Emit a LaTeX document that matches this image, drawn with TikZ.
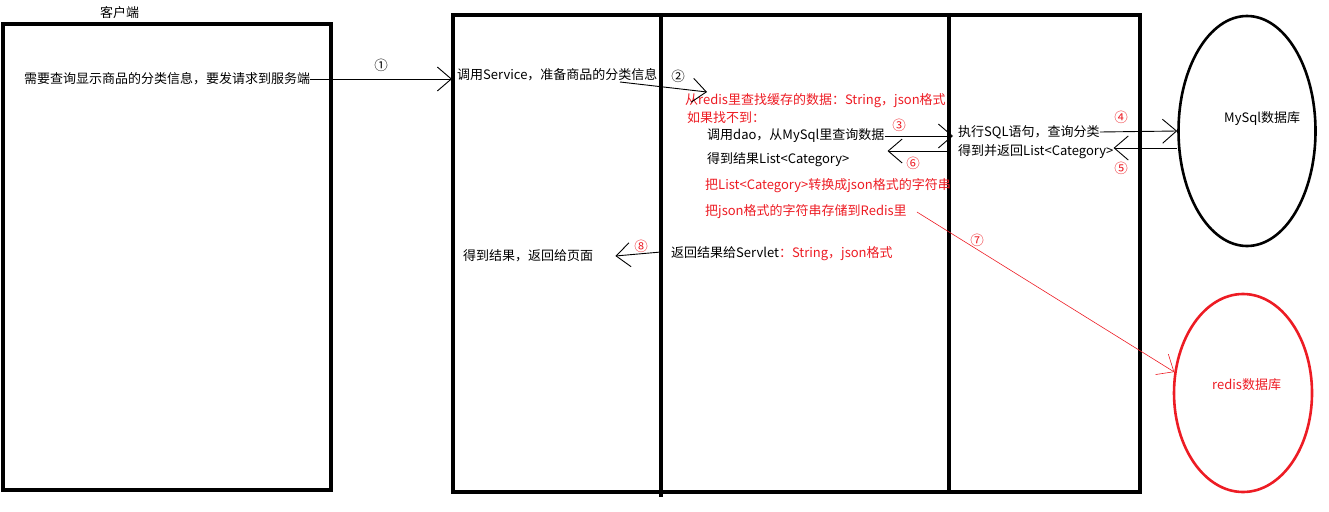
\documentclass[tikz,border=0pt]{standalone}
\usepackage{fontspec}
\setmainfont{Noto Sans CJK SC}
\usetikzlibrary{arrows.meta,shapes.geometric}
\definecolor{paintred}{RGB}{237,28,36}
\begin{document}
\begin{tikzpicture}[x=1pt,y=-1pt,
    lbl/.style={anchor=west,inner sep=0pt,font=\fontsize{13}{15}\selectfont},
    redlbl/.style={lbl,text=paintred},
    num/.style={inner sep=0pt,font=\fontsize{13.5}{15}\selectfont},
    rednum/.style={num,text=paintred},
    flow/.style={-{Straight Barb[length=14pt,width=24pt]},line width=0.9pt},
    redflow/.style={flow,draw=paintred,line width=0.6pt},
    frame/.style={line width=4pt},
    db/.style={draw,ellipse,line width=2.6pt,inner sep=0pt}]
        \useasboundingbox (0,0) rectangle (1329,511);
        \draw[frame] (3,24) rectangle (331,490);
        \draw[frame] (453,15) rectangle (1140,492);
        \draw[frame] (661,15) -- (661,497);
        \draw[frame] (949,13) -- (949,494);
        \node[lbl] (client) at (100,13) {客户端};
        \node[lbl] (req) at (24,79) {需要查询显示商品的分类信息，要发请求到服务端};
        \node[lbl] (svc) at (457,75) {调用Service，准备商品的分类信息};
        \node[redlbl] (cache) at (685,101) {从redis里查找缓存的数据：String，json格式};
        \node[redlbl] (miss) at (687,118) {如果找不到：};
        \node[lbl] (dao) at (707,136) {调用dao，从MySql里查询数据};
        \node[lbl] (res) at (707,160) {得到结果List<Category>};
        \node[redlbl] (tojson) at (705,186) {把List<Category>转换成json格式的字符串};
        \node[redlbl] (save) at (705,212) {把json格式的字符串存储到Redis里};
        \node[lbl] (page) at (463,256) {得到结果，返回给页面};
        \node[lbl] (servlet) at (671,254) {返回结果给Servlet\textcolor{paintred}{：String，json格式}};
        \node[lbl] (sql) at (958,132) {执行SQL语句，查询分类};
        \node[lbl] (ret) at (958,152) {得到并返回List<Category>};
        \node[db,minimum width=137pt,minimum height=230pt] (mysql) at (1247,131) {};
        \node[lbl] (mysqlname) at (1224,119) {MySql数据库};
        \node[db,draw=paintred,minimum width=138pt,minimum height=198pt] (redis) at (1243,393) {};
        \node[redlbl] (redisname) at (1212,385) {redis数据库};
        \coordinate (s2) at (620,82);
        \coordinate (e2) at (707,92);
        \draw[flow] (req.east) -- (452,79) node[num,midway,above=7pt] (n1) {①};
        \draw[flow] (s2) -- (e2);
        \node[num] (n2) at (678,76) {②};
        \draw[flow] (dao.east) -- ([xshift=-5pt]dao.east -| sql.west);
        \node[rednum] (n3) at (899,125) {③};
        \draw[flow] (sql.east) -- (mysql.west);
        \node[rednum] (n4) at (1121,117) {④};
        \draw[flow] ([yshift=4pt]mysql.west |- ret.east) -- ([yshift=4pt]ret.east);
        \node[rednum] (n5) at (1121,168) {⑤};
        \draw[flow] ([xshift=-9pt,yshift=1pt]ret.west) -- ([xshift=3pt,yshift=1pt]dao.east |- ret.west);
        \node[rednum] (n6) at (913,163) {⑥};
        \draw[redflow] ([xshift=10pt]save.east) -- (redis.163);
        \node[rednum] (n7) at (977,240) {⑦};
        \draw[flow] ([xshift=-10pt,yshift=2pt]servlet.west) -- ([xshift=22pt]page.east);
        \node[rednum] (n8) at (641,246) {⑧};
\end{tikzpicture}
\end{document}
